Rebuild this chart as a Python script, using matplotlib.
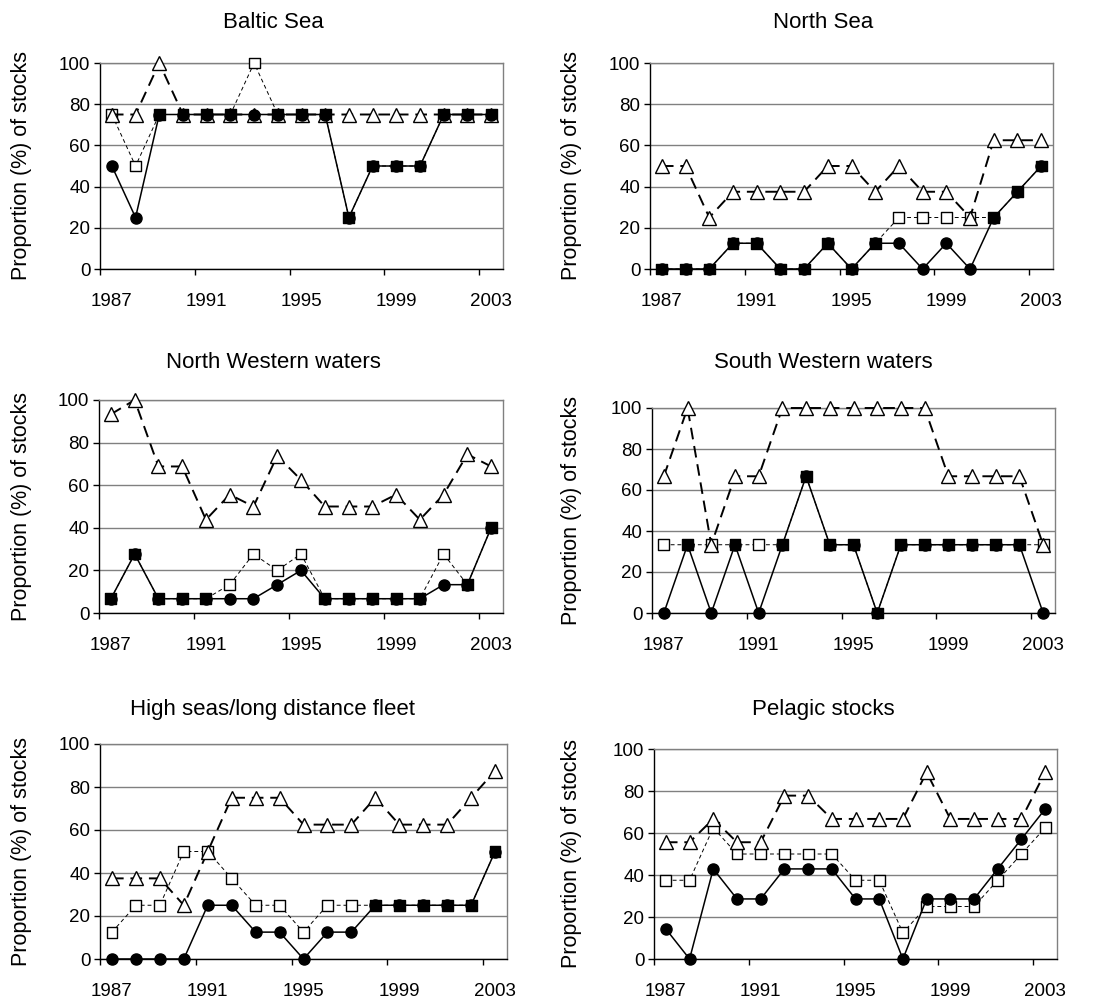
import numpy as np
import matplotlib
matplotlib.use("Agg")
import matplotlib.pyplot as plt

plt.rcParams.update({
    "font.family": ["Liberation Sans", "DejaVu Sans"],
    "font.size": 13,
})

years = np.arange(1987, 2004)

# ---- data: % of stocks per year, three series per region ----
baltic_circle = [50, 25, 75, 75, 75, 75, 75, 75, 75, 75, 25, 50, 50, 50, 75, 75, 75]
baltic_square = [75, 50, 75, 75, 75, 75, 100, 75, 75, 75, 25, 50, 50, 50, 75, 75, 75]
baltic_triangle = [75, 75, 100, 75, 75, 75, 75, 75, 75, 75, 75, 75, 75, 75, 75, 75, 75]

north_circle = [0, 0, 0, 12.5, 12.5, 0, 0, 12.5, 0, 12.5, 12.5, 0, 12.5, 0, 25, 37.5, 50]
north_square = [0, 0, 0, 12.5, 12.5, 0, 0, 12.5, 0, 12.5, 25, 25, 25, 25, 25, 37.5, 50]
north_triangle = [50, 50, 25, 37.5, 37.5, 37.5, 37.5, 50, 50, 37.5, 50, 37.5, 37.5, 25,
                  62.5, 62.5, 62.5]

nw_circle = [6.7, 27.7, 6.7, 6.7, 6.7, 6.7, 6.7, 13.3, 20, 6.7, 6.7, 6.7, 6.7, 6.7,
             13.3, 13.3, 40]
nw_square = [6.7, 27.7, 6.7, 6.7, 6.7, 13.3, 27.7, 20, 27.7, 6.7, 6.7, 6.7, 6.7, 6.7,
             27.7, 13.3, 40]
nw_triangle = [93.3, 100, 68.8, 68.8, 43.8, 55.6, 50, 73.8, 62.5, 50, 50, 50, 55.6, 43.8,
               55.6, 74.5, 68.8]

sw_circle = [0, 33.3, 0, 33.3, 0, 33.3, 66.7, 33.3, 33.3, 0, 33.3, 33.3, 33.3, 33.3,
             33.3, 33.3, 0]
sw_square = [33.3, 33.3, 33.3, 33.3, 33.3, 33.3, 66.7, 33.3, 33.3, 0, 33.3, 33.3, 33.3,
             33.3, 33.3, 33.3, 33.3]
sw_triangle = [66.7, 100, 33.3, 66.7, 66.7, 100, 100, 100, 100, 100, 100, 100, 66.7,
               66.7, 66.7, 66.7, 33.3]

hs_circle = [0, 0, 0, 0, 25, 25, 12.5, 12.5, 0, 12.5, 12.5, 25, 25, 25, 25, 25, 50]
hs_square = [12.5, 25, 25, 50, 50, 37.5, 25, 25, 12.5, 25, 25, 25, 25, 25, 25, 25, 50]
hs_triangle = [37.5, 37.5, 37.5, 25, 50, 75, 75, 75, 62.5, 62.5, 62.5, 75, 62.5, 62.5,
               62.5, 75, 87.5]

pel_circle = [14.3, 0, 42.9, 28.6, 28.6, 42.9, 42.9, 42.9, 28.6, 28.6, 0, 28.6, 28.6,
              28.6, 42.9, 57.1, 71.4]
pel_square = [37.5, 37.5, 62.5, 50, 50, 50, 50, 50, 37.5, 37.5, 12.5, 25, 25, 25, 37.5,
              50, 62.5]
pel_triangle = [55.6, 55.6, 66.7, 55.6, 55.6, 77.8, 77.8, 66.7, 66.7, 66.7, 66.7, 88.9,
                66.7, 66.7, 66.7, 66.7, 88.9]

titles = ["Baltic Sea", "North Sea", "North Western waters", "South Western waters",
          "High seas/long distance fleet", "Pelagic stocks"]
circles = [baltic_circle, north_circle, nw_circle, sw_circle, hs_circle, pel_circle]
squares = [baltic_square, north_square, nw_square, sw_square, hs_square, pel_square]
triangles = [baltic_triangle, north_triangle, nw_triangle, sw_triangle, hs_triangle,
             pel_triangle]

W, H = 1099, 1006
fig = plt.figure(figsize=(W / 100, H / 100), dpi=100)

# plot-area boxes in pixels: left, top, right, bottom
boxes = [
    (100, 63, 503, 269), (650, 63, 1053, 269),
    (99, 400, 503, 613), (652, 408, 1055, 613),
    (100, 744, 507, 959), (654, 749, 1057, 959),
]
title_y = [23, 23, 363, 363, 710, 710]

for i, (l, t, r, b) in enumerate(boxes):
    ax = fig.add_axes([l / W, 1 - b / H, (r - l) / W, (b - t) / H])
    circ = np.array(circles[i], dtype=float)
    sq = np.array(squares[i], dtype=float)
    tri = np.array(triangles[i], dtype=float)

    # open-square series (filled where it coincides with the circle series)
    ax.plot(years, sq, color="black", lw=0.7, ls=(0, (4, 3)), zorder=2, clip_on=False)
    face = np.where(np.isclose(sq, circ), "black", "white")
    ax.scatter(years, sq, marker="s", s=62, facecolors=face, edgecolors="black",
               linewidths=1.0, zorder=3, clip_on=False)

    # open-triangle series
    ax.plot(years, tri, color="black", lw=1.4, ls=(0, (6, 3.5)), marker="^",
            ms=10, mfc="white", mec="black", mew=1.0, zorder=4, clip_on=False)

    # filled-circle series
    ax.plot(years, circ, color="black", lw=1.1, marker="o", ms=8, mfc="black",
            mec="black", zorder=5, clip_on=False)

    ax.set_xlim(1986.5, 2003.5)
    ax.set_ylim(0, 100)
    ax.set_yticks(np.arange(0, 101, 20))
    ax.yaxis.grid(True, color="#808080", lw=1.0)
    ax.set_axisbelow(True)

    ax.set_xticks(np.arange(1986.5, 2003, 4))
    ax.set_xticklabels([])
    ax.set_xticks(np.arange(1987, 2004, 4), minor=True)
    ax.set_xticklabels([str(y) for y in range(1987, 2004, 4)], minor=True)
    ax.tick_params(axis="x", which="major", direction="out", length=4, width=1)
    ax.tick_params(axis="x", which="minor", length=0, pad=17, labelsize=13.5)
    ax.tick_params(axis="y", direction="out", length=4, width=1, pad=3, labelsize=13.5)

    for s in ("top", "right"):
        ax.spines[s].set_color("#808080")
    for s in ("left", "bottom"):
        ax.spines[s].set_color("black")
    for s in ax.spines.values():
        s.set_linewidth(1.0)

    col_x = 0 if i % 2 == 0 else 550
    fig.text((col_x + 22) / W, 1 - ((t + b) / 2) / H, "Proportion (%) of stocks",
             rotation=90, ha="center", va="center", fontsize=15.5)
    fig.text((col_x + 273) / W, 1 - title_y[i] / H, titles[i],
             ha="center", va="center", fontsize=16)

fig.savefig("out.png", dpi=100)
